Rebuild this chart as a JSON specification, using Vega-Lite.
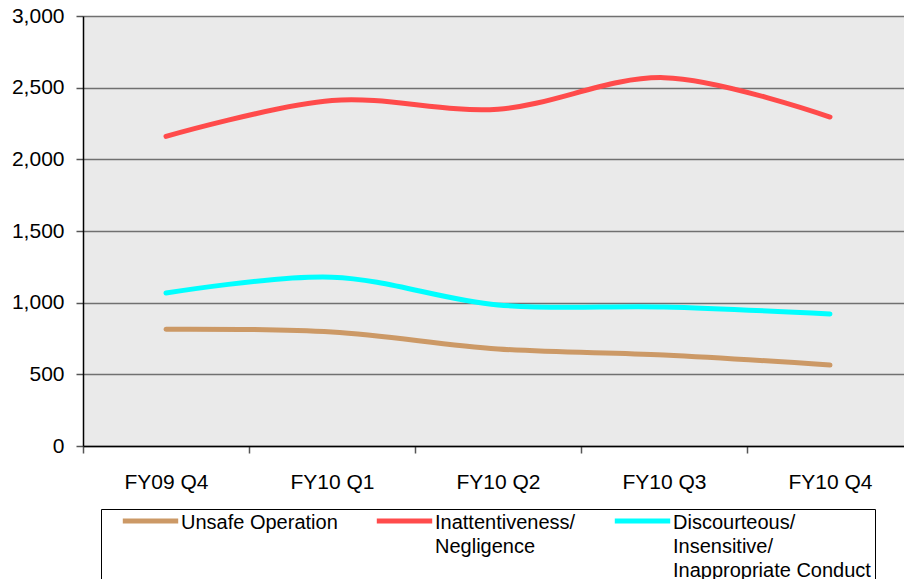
{
  "$schema": "https://vega.github.io/schema/vega-lite/v6.json",
  "width": 830,
  "height": 430,
  "padding": {"left": 83, "top": 16, "right": 0, "bottom": 133},
  "autosize": {"type": "none"},
  "background": "white",
  "config": {
    "view": {"fill": "#eaeaea", "stroke": null},
    "font": "Liberation Sans"
  },
  "data": {
    "values": [
      {"quarter": "FY09 Q4", "series": "Unsafe Operation", "complaints": 815},
      {"quarter": "FY10 Q1", "series": "Unsafe Operation", "complaints": 795},
      {"quarter": "FY10 Q2", "series": "Unsafe Operation", "complaints": 677},
      {"quarter": "FY10 Q3", "series": "Unsafe Operation", "complaints": 635},
      {"quarter": "FY10 Q4", "series": "Unsafe Operation", "complaints": 565},
      {"quarter": "FY09 Q4", "series": "Inattentiveness/ Negligence", "complaints": 2160},
      {"quarter": "FY10 Q1", "series": "Inattentiveness/ Negligence", "complaints": 2410},
      {"quarter": "FY10 Q2", "series": "Inattentiveness/ Negligence", "complaints": 2350},
      {"quarter": "FY10 Q3", "series": "Inattentiveness/ Negligence", "complaints": 2570},
      {"quarter": "FY10 Q4", "series": "Inattentiveness/ Negligence", "complaints": 2295},
      {"quarter": "FY09 Q4", "series": "Discourteous/ Insensitive/ Inappropriate Conduct", "complaints": 1067},
      {"quarter": "FY10 Q1", "series": "Discourteous/ Insensitive/ Inappropriate Conduct", "complaints": 1178},
      {"quarter": "FY10 Q2", "series": "Discourteous/ Insensitive/ Inappropriate Conduct", "complaints": 984},
      {"quarter": "FY10 Q3", "series": "Discourteous/ Insensitive/ Inappropriate Conduct", "complaints": 970},
      {"quarter": "FY10 Q4", "series": "Discourteous/ Insensitive/ Inappropriate Conduct", "complaints": 921}
    ]
  },
  "mark": {"type": "line", "interpolate": "catmull-rom", "strokeWidth": 5, "strokeCap": "round"},
  "encoding": {
    "x": {
      "field": "quarter",
      "type": "ordinal",
      "sort": null,
      "bandPosition": 0.5,
      "scale": {"type": "band", "paddingInner": 0, "paddingOuter": 0},
      "axis": {
        "title": null,
        "labelAngle": 0,
        "tickBand": "extent",
        "grid": false,
        "domainColor": "black",
        "domainWidth": 1.5,
        "ticks": true,
        "tickColor": "#555",
        "tickWidth": 1.5,
        "tickSize": 7,
        "labelPadding": 18,
        "labelFontSize": 21,
        "labelColor": "black"
      }
    },
    "y": {
      "field": "complaints",
      "type": "quantitative",
      "scale": {"domain": [0, 3000]},
      "axis": {
        "title": null,
        "values": [0, 500, 1000, 1500, 2000, 2500, 3000],
        "format": ",.0f",
        "grid": true,
        "gridColor": "#707070",
        "gridWidth": 1.5,
        "domainColor": "black",
        "domainWidth": 1.5,
        "ticks": true,
        "tickColor": "#555",
        "tickWidth": 1.5,
        "tickSize": 7,
        "labelPadding": 12,
        "labelFontSize": 21,
        "labelColor": "black"
      }
    },
    "color": {
      "field": "series",
      "type": "nominal",
      "scale": {
        "domain": ["Unsafe Operation", "Inattentiveness/ Negligence", "Discourteous/ Insensitive/ Inappropriate Conduct"],
        "range": ["#cc9966", "#ff4b4b", "#00ffff"]
      },
      "legend": {
        "title": null,
        "orient": "none",
        "legendX": 18,
        "legendY": 493,
        "direction": "horizontal",
        "columns": 3,
        "columnPadding": 21,
        "symbolType": "M-1,0H1",
        "symbolSize": 3070,
        "symbolStrokeWidth": 5,
        "symbolStrokeCap": "round",
        "symbolOffset": 15,
        "clipHeight": 16,
        "labelFontSize": 20,
        "labelLimit": 400,
        "labelOffset": 0,
        "labelColor": "black",
        "labelBaseline": "top",
        "labelExpr": "slice(split(replace(datum.label, /\\/ /g, '/\\n') + '\\n\\n\\n', '\\n'), 0, 3)",
        "strokeColor": "black",
        "fillColor": "white",
        "padding": 4,
        "encode": {"labels": {"update": {"lineHeight": {"value": 24}, "dy": {"value": -8}}}}
      }
    }
  }
}
